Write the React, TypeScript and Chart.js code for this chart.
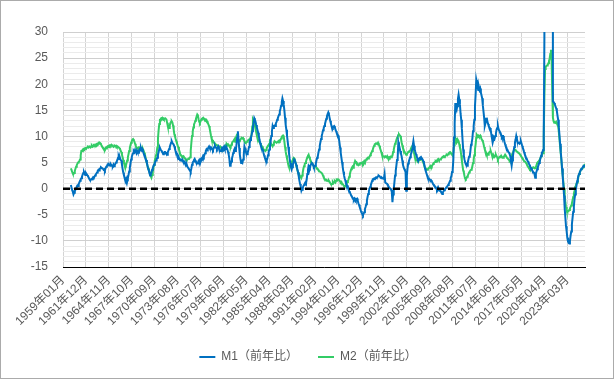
import React, { useEffect, useRef } from 'react';
import { Chart, registerables } from 'chart.js';

Chart.register(...registerables);

// ---- categories (monthly, 1959-01 .. 2025-06) ----
const firstYear = 1959;
const monthCount = 798;
const categories: string[] = Array.from(
  { length: monthCount },
  (_, i) => `${firstYear + Math.floor(i / 12)}年${String((i % 12) + 1).padStart(2, '0')}月`
);

// ---- x tick labels shown on the axis ----
const xTickLabels: string[] = [
  '1959年01月', '1961年12月', '1964年11月', '1967年10月', '1970年09月', '1973年08月',
  '1976年07月', '1979年06月', '1982年05月', '1985年04月', '1988年03月', '1991年02月',
  '1994年01月', '1996年12月', '1999年11月', '2002年10月', '2005年09月', '2008年08月',
  '2011年07月', '2014年06月', '2017年05月', '2020年04月', '2023年03月',
];

// ---- y tick labels ----
const yTickLabels: number[] = [-15, -10, -5, 0, 5, 10, 15, 20, 25, 30];

// ---- series: M1 year-on-year (%) ----
const m1Yoy: (number | null)[] = [
  null, null, null, null, null, null, null, null, null, null, null, null, // 1959
  0.7, 0.2, -0.3, -0.6, -1.1, -0.8, -0.5, -0.2, 0.1, 0.4, 0.6, 0.5, // 1960
  0.9, 1.2, 1.5, 1.8, 2.0, 2.3, 2.7, 3.0, 3.2, 2.9, 2.6, 3.0, // 1961
  2.8, 2.6, 2.4, 2.2, 1.9, 1.7, 1.6, 1.8, 1.9, 2.0, 2.2, 2.1, // 1962
  2.3, 2.5, 2.7, 2.9, 3.1, 3.4, 3.6, 3.5, 3.8, 3.9, 4.1, 4.0, // 1963
  3.9, 3.8, 3.6, 3.7, 3.5, 3.9, 4.2, 4.3, 4.6, 4.5, 4.7, 4.6, // 1964
  4.4, 4.7, 4.5, 4.4, 4.3, 4.6, 4.3, 4.5, 4.8, 5.0, 5.2, 5.5, // 1965
  5.9, 6.1, 5.7, 5.9, 5.5, 5.4, 4.6, 3.8, 3.1, 2.6, 2.2, 2.0, // 1966
  1.6, 1.9, 2.2, 2.0, 2.6, 3.3, 4.0, 4.8, 5.6, 6.1, 6.5, 6.8, // 1967
  7.2, 7.0, 7.4, 7.1, 6.8, 7.3, 7.0, 6.9, 7.2, 7.5, 7.3, 7.8, // 1968
  7.4, 7.6, 7.2, 6.8, 6.5, 6.1, 5.7, 5.5, 5.0, 4.4, 3.8, 3.5, // 1969
  3.0, 2.5, 2.8, 3.1, 3.6, 3.9, 4.3, 4.6, 4.9, 5.2, 5.4, 5.7, // 1970
  5.9, 6.5, 7.0, 7.6, 7.8, 7.5, 7.3, 7.1, 6.9, 6.6, 6.8, 7.0, // 1971
  7.0, 6.8, 6.6, 6.5, 7.0, 7.3, 7.6, 8.0, 8.4, 8.8, 9.1, 8.8, // 1972
  8.6, 8.4, 8.1, 7.6, 7.2, 6.9, 6.5, 6.0, 5.7, 5.9, 5.6, 5.4, // 1973
  5.5, 5.4, 5.6, 5.3, 5.1, 5.2, 4.9, 4.6, 4.4, 4.6, 4.2, 4.0, // 1974
  3.8, 3.6, 3.5, 3.3, 3.9, 4.6, 5.0, 5.2, 5.5, 5.7, 5.4, 5.1, // 1975
  5.0, 4.8, 4.9, 5.3, 5.5, 5.2, 5.6, 5.8, 5.7, 6.0, 6.3, 6.1, // 1976
  6.5, 6.8, 7.2, 7.5, 7.3, 7.6, 7.9, 8.1, 7.8, 7.6, 7.9, 7.7, // 1977
  7.6, 7.4, 7.7, 8.0, 8.2, 7.9, 7.8, 7.6, 7.9, 8.1, 7.7, 7.4, // 1978
  7.2, 7.3, 7.5, 7.8, 7.6, 7.9, 8.1, 7.7, 7.9, 7.6, 7.8, 7.5, // 1979
  7.0, 6.5, 5.7, 4.4, 4.6, 5.2, 5.8, 6.3, 6.9, 7.3, 7.6, 7.2, // 1980
  7.5, 8.6, 9.8, 11.0, 9.4, 7.8, 6.5, 5.6, 4.9, 5.2, 5.0, 5.6, // 1981
  6.5, 8.1, 7.7, 7.2, 6.9, 6.6, 6.9, 7.4, 8.0, 8.7, 9.3, 9.8, // 1982
  10.3, 11.0, 11.8, 12.6, 13.5, 13.2, 12.8, 12.2, 11.7, 11.2, 10.7, 10.1, // 1983
  9.4, 8.8, 8.3, 7.9, 7.6, 7.5, 6.9, 6.4, 6.0, 5.7, 5.6, 5.4, // 1984
  5.8, 6.4, 7.0, 7.5, 8.1, 9.0, 10.1, 11.0, 12.0, 11.6, 12.0, 12.1, // 1985
  12.0, 12.5, 12.8, 13.2, 13.5, 13.9, 14.2, 14.8, 15.3, 15.9, 16.6, 17.3, // 1986
  16.8, 16.1, 15.0, 13.6, 12.2, 11.3, 10.2, 9.1, 8.0, 6.9, 5.8, 4.9, // 1987
  4.2, 3.7, 4.1, 4.6, 5.1, 5.6, 5.4, 5.0, 4.6, 4.1, 3.6, 3.1, // 1988
  2.3, 1.5, 0.9, 0.4, -0.4, -0.2, 0.1, 0.5, 0.7, 1.0, 1.2, 1.0, // 1989
  1.7, 2.8, 3.6, 4.4, 4.2, 4.0, 4.5, 4.7, 4.9, 4.8, 4.5, 4.1, // 1990
  4.2, 4.4, 4.8, 5.4, 5.9, 6.2, 6.9, 7.5, 8.2, 8.9, 9.5, 10.1, // 1991
  10.6, 11.2, 11.6, 12.0, 12.4, 12.9, 13.4, 13.9, 14.3, 14.6, 14.2, 13.6, // 1992
  13.0, 12.5, 12.0, 11.7, 11.6, 11.9, 12.0, 11.8, 11.3, 11.0, 10.6, 10.4, // 1993
  10.2, 9.8, 8.9, 7.9, 6.9, 6.0, 5.1, 4.2, 3.3, 2.6, 2.0, 1.6, // 1994
  1.1, 0.8, 0.6, 0.2, -0.2, -0.5, -0.7, -1.0, -1.3, -1.5, -1.8, -2.0, // 1995
  -2.1, -1.8, -1.9, -2.2, -2.0, -1.9, -2.3, -2.8, -3.1, -3.5, -3.9, -4.3, // 1996
  -4.6, -4.9, -5.1, -4.8, -4.5, -3.9, -3.5, -3.0, -2.3, -1.6, -1.0, -0.5, // 1997
  0.0, 0.3, 0.7, 1.1, 1.5, 1.8, 1.9, 1.8, 2.0, 2.1, 2.2, 2.1, // 1998
  2.2, 2.4, 2.5, 2.4, 2.3, 2.1, 2.0, 2.1, 2.0, 1.9, 2.0, 2.8, // 1999
  1.2, 1.1, 1.0, 0.9, 0.6, 0.5, 0.2, 0.1, 0.0, -0.2, -0.6, -2.6, // 2000
  -1.1, 0.0, 1.2, 2.5, 3.4, 4.4, 5.5, 6.0, 8.9, 8.3, 7.8, 7.2, // 2001
  6.7, 6.2, 5.4, 4.6, 4.1, 3.8, 3.5, 3.2, -0.4, 2.5, 3.9, 4.8, // 2002
  5.2, 5.6, 6.0, 6.5, 6.9, 7.5, 8.3, 9.1, 8.2, 7.5, 7.0, 6.6, // 2003
  6.2, 5.9, 5.6, 5.5, 5.7, 5.9, 6.0, 5.7, 5.8, 5.6, 5.3, 5.0, // 2004
  4.4, 3.7, 3.3, 2.9, 2.5, 2.1, 1.8, 1.9, 1.7, 1.5, 1.6, 1.4, // 2005
  1.2, 0.9, 0.7, 0.6, 0.4, 0.2, 0.0, -0.2, 0.1, -0.3, -0.1, -0.4, // 2006
  -0.4, -0.6, -0.8, -1.0, -0.7, -0.5, -0.3, -0.1, 0.0, 0.2, 0.3, 0.5, // 2007
  0.7, 0.9, 1.2, 1.5, 2.1, 2.4, 3.2, 3.6, 5.6, 9.8, 12.5, 16.4, // 2008
  15.5, 15.1, 15.8, 17.2, 18.0, 17.1, 16.2, 14.4, 13.2, 11.5, 9.4, 7.5, // 2009
  6.3, 5.6, 5.0, 4.7, 4.5, 4.4, 5.0, 5.6, 6.1, 6.2, 7.2, 8.4, // 2010
  8.8, 9.6, 11.0, 12.0, 13.2, 15.8, 18.0, 20.8, 20.1, 19.4, 18.9, 19.5, // 2011
  18.9, 19.2, 18.4, 17.9, 17.3, 16.0, 14.8, 13.6, 12.0, 12.5, 13.2, 13.6, // 2012
  12.8, 12.4, 12.0, 11.7, 11.6, 11.3, 10.4, 9.6, 8.8, 9.3, 9.8, 9.6, // 2013
  10.1, 10.6, 11.3, 11.6, 12.0, 11.4, 11.1, 10.8, 10.7, 10.3, 9.9, 10.1, // 2014
  10.1, 9.6, 9.0, 8.5, 8.1, 7.9, 7.5, 7.3, 7.0, 6.9, 6.6, 6.2, // 2015
  5.2, 4.4, 5.4, 6.3, 7.2, 8.0, 8.8, 9.4, 10.1, 9.5, 9.0, 8.8, // 2016
  8.8, 8.6, 8.9, 9.1, 8.7, 8.2, 7.8, 7.5, 7.0, 6.6, 6.3, 5.9, // 2017
  5.7, 5.4, 5.2, 4.9, 4.6, 4.3, 4.1, 3.9, 3.6, 3.4, 3.2, 3.1, // 2018
  2.7, 2.1, 2.9, 3.3, 3.7, 4.1, 4.5, 4.9, 5.3, 5.8, 6.3, 6.9, // 2019
  7.0, 7.4, 10.2, 29.0, 330.0, 338.0, 343.0, 346.0, 349.0, 351.0, 353.0, 355.0, // 2020
  352.0, 348.0, 340.0, 290.0, 16.7, 16.6, 16.4, 16.1, 15.7, 15.4, 14.9, 14.0, // 2021
  13.2, 11.8, 10.3, 8.6, 7.0, 5.6, 3.9, 2.3, 0.5, -1.3, -3.8, -5.5, // 2022
  -7.2, -8.2, -9.4, -10.1, -10.4, -10.5, -10.0, -9.0, -8.2, -6.8, -5.6, -4.4, // 2023
  -3.4, -2.0, -1.1, -0.2, 0.6, 1.4, 1.9, 2.5, 2.8, 3.2, 3.4, 3.7, // 2024
  3.8, 4.0, 4.2, 4.4, 4.4, 4.5, // 2025
];

// ---- series: M2 year-on-year (%) ----
const m2Yoy: (number | null)[] = [
  null, null, null, null, null, null, null, null, null, null, null, null, // 1959
  3.9, 3.6, 3.2, 2.9, 2.8, 3.0, 3.4, 3.8, 4.2, 4.5, 4.8, 5.0, // 1960
  5.1, 5.3, 5.6, 6.4, 7.2, 7.3, 7.4, 7.6, 7.5, 7.7, 7.8, 7.7, // 1961
  7.8, 7.9, 8.0, 7.9, 8.1, 8.0, 7.9, 8.1, 8.2, 8.0, 8.1, 8.3, // 1962
  8.2, 8.4, 8.3, 8.5, 8.6, 8.5, 8.7, 8.6, 8.8, 8.7, 8.5, 8.2, // 1963
  8.0, 7.8, 7.7, 7.6, 7.5, 7.8, 7.7, 8.0, 8.1, 8.0, 8.2, 8.3, // 1964
  8.3, 8.2, 8.4, 8.3, 8.2, 8.0, 8.1, 8.2, 8.1, 8.2, 8.0, 8.1, // 1965
  8.0, 7.9, 7.8, 7.6, 7.3, 7.0, 6.5, 6.0, 5.5, 5.0, 4.7, 4.5, // 1966
  4.4, 4.9, 5.4, 6.0, 6.6, 7.2, 7.8, 8.3, 8.8, 9.1, 9.4, 9.5, // 1967
  9.3, 9.0, 8.6, 8.2, 7.9, 7.7, 7.8, 7.9, 7.7, 7.9, 8.0, 7.8, // 1968
  7.7, 7.5, 7.6, 7.3, 6.9, 6.5, 6.0, 5.4, 4.9, 4.4, 4.0, 3.7, // 1969
  3.2, 2.7, 2.4, 2.1, 2.6, 3.2, 3.9, 4.6, 5.3, 5.9, 6.4, 6.9, // 1970
  7.9, 9.6, 11.2, 12.4, 13.2, 13.3, 13.5, 13.4, 13.6, 13.5, 13.3, 13.4, // 1971
  13.5, 13.4, 13.2, 12.6, 12.0, 11.8, 11.6, 12.1, 12.6, 12.8, 12.9, 12.7, // 1972
  12.1, 11.3, 10.4, 10.0, 9.5, 9.1, 8.7, 8.3, 8.0, 7.5, 7.1, 6.6, // 1973
  6.4, 6.3, 6.2, 6.1, 6.2, 6.0, 5.8, 5.7, 5.6, 5.5, 5.6, 5.7, // 1974
  5.8, 5.8, 6.0, 7.3, 8.8, 10.1, 10.9, 11.7, 12.3, 12.6, 13.0, 13.4, // 1975
  13.8, 14.2, 14.0, 13.3, 12.8, 12.6, 12.9, 13.2, 13.4, 13.5, 13.6, 13.4, // 1976
  13.4, 13.3, 13.1, 13.2, 12.9, 12.6, 12.3, 12.0, 11.5, 10.8, 10.1, 9.5, // 1977
  9.3, 9.1, 8.9, 8.8, 8.6, 8.5, 8.4, 8.3, 8.3, 8.2, 8.1, 8.0, // 1978
  8.1, 7.9, 7.7, 7.6, 7.5, 7.7, 7.9, 8.1, 8.2, 8.4, 8.5, 8.3, // 1979
  8.5, 8.3, 8.2, 8.1, 8.0, 8.4, 8.7, 9.0, 9.1, 9.3, 9.5, 9.0, // 1980
  9.7, 10.1, 9.8, 9.6, 9.3, 9.1, 9.2, 9.4, 9.6, 9.7, 9.6, 9.7, // 1981
  9.4, 9.1, 8.9, 8.8, 8.9, 9.0, 9.2, 9.3, 9.4, 9.5, 9.7, 9.6, // 1982
  10.6, 11.9, 13.2, 12.9, 12.4, 12.0, 11.4, 10.8, 10.2, 9.7, 9.3, 9.1, // 1983
  8.9, 8.7, 8.4, 8.2, 8.1, 7.9, 7.6, 7.4, 7.3, 7.2, 7.4, 7.8, // 1984
  8.0, 8.2, 8.4, 8.6, 9.0, 8.8, 8.5, 8.3, 8.1, 8.4, 8.8, 9.1, // 1985
  9.0, 8.9, 8.8, 8.9, 9.0, 9.1, 9.2, 9.1, 9.3, 9.6, 9.9, 10.1, // 1986
  10.2, 10.0, 9.0, 8.0, 7.1, 6.4, 5.8, 5.2, 4.6, 4.2, 4.0, 4.1, // 1987
  4.5, 4.9, 5.3, 5.6, 5.9, 5.8, 5.5, 5.0, 4.5, 4.0, 3.5, 3.1, // 1988
  2.9, 2.6, 2.4, 2.2, 2.1, 2.5, 3.1, 3.8, 4.3, 4.7, 4.9, 5.2, // 1989
  5.6, 6.0, 6.3, 6.5, 6.1, 5.7, 5.4, 5.1, 4.9, 4.7, 4.5, 4.3, // 1990
  4.3, 4.4, 4.2, 4.0, 3.9, 3.7, 3.6, 3.4, 3.3, 3.2, 3.1, 3.0, // 1991
  2.8, 2.5, 2.2, 1.9, 1.8, 1.7, 1.5, 1.6, 1.5, 1.4, 1.5, 1.3, // 1992
  1.1, 0.9, 0.8, 0.9, 1.3, 1.1, 1.2, 1.4, 1.2, 1.5, 1.7, 1.6, // 1993
  1.8, 1.7, 1.6, 1.4, 1.2, 1.3, 1.0, 0.9, 0.7, 0.5, 0.3, 0.5, // 1994
  0.6, 0.9, 1.3, 1.5, 1.8, 2.3, 2.8, 3.3, 3.7, 4.0, 4.2, 4.0, // 1995
  4.4, 4.9, 5.3, 5.1, 4.9, 4.6, 4.7, 4.5, 4.6, 4.8, 4.9, 4.8, // 1996
  4.9, 5.0, 4.8, 5.1, 5.3, 5.1, 5.3, 5.6, 5.7, 5.9, 5.8, 6.0, // 1997
  6.1, 6.4, 6.7, 6.9, 7.2, 7.5, 7.9, 8.2, 8.5, 8.6, 8.7, 8.6, // 1998
  8.6, 8.8, 8.5, 8.2, 7.8, 7.4, 7.0, 6.5, 6.3, 6.2, 6.1, 6.0, // 1999
  6.2, 6.1, 6.0, 6.2, 5.9, 5.8, 6.0, 5.9, 6.1, 6.0, 6.2, 6.3, // 2000
  7.0, 7.5, 8.1, 8.6, 8.8, 9.3, 9.7, 9.9, 10.3, 10.4, 10.2, 10.1, // 2001
  9.6, 8.9, 8.3, 7.8, 7.5, 7.1, 6.9, 6.7, 6.5, 6.6, 6.8, 7.0, // 2002
  7.1, 7.2, 7.3, 7.6, 7.9, 8.1, 7.8, 7.2, 6.8, 6.2, 5.7, 5.5, // 2003
  5.4, 5.3, 5.2, 5.3, 5.5, 5.6, 5.7, 5.8, 5.6, 5.3, 5.0, 4.7, // 2004
  4.2, 4.0, 3.9, 3.7, 3.6, 3.7, 3.9, 4.0, 4.2, 4.4, 4.3, 4.2, // 2005
  4.5, 4.7, 4.9, 5.0, 5.1, 5.3, 5.2, 5.4, 5.6, 5.7, 5.5, 5.6, // 2006
  5.6, 5.7, 5.8, 6.0, 6.1, 6.2, 6.0, 6.2, 6.3, 6.4, 6.5, 6.4, // 2007
  6.6, 6.8, 6.9, 7.0, 6.9, 6.6, 6.5, 6.3, 7.0, 8.3, 8.9, 9.7, // 2008
  9.4, 8.8, 9.0, 9.3, 9.1, 8.5, 7.9, 7.5, 6.4, 5.3, 4.4, 3.5, // 2009
  3.1, 2.4, 1.9, 1.8, 2.0, 2.3, 2.5, 2.8, 3.1, 3.3, 3.5, 3.6, // 2010
  3.7, 4.3, 4.9, 5.6, 6.4, 7.5, 8.5, 9.8, 10.3, 10.1, 10.2, 10.0, // 2011
  10.1, 10.2, 9.9, 9.5, 9.3, 9.1, 8.6, 8.0, 7.5, 7.2, 6.9, 6.5, // 2012
  6.6, 6.5, 6.8, 7.0, 7.1, 7.2, 6.8, 6.4, 5.9, 6.0, 6.3, 6.1, // 2013
  6.3, 6.5, 6.2, 6.0, 5.6, 5.8, 6.0, 6.1, 6.2, 6.0, 6.1, 5.9, // 2014
  5.9, 6.1, 6.3, 6.5, 6.3, 6.1, 5.9, 5.8, 5.6, 5.5, 5.3, 5.4, // 2015
  5.9, 6.3, 6.7, 6.9, 7.2, 7.4, 7.5, 7.4, 7.2, 7.1, 7.0, 6.9, // 2016
  6.8, 6.7, 6.5, 6.3, 6.1, 5.9, 5.7, 5.5, 5.3, 5.2, 5.1, 4.9, // 2017
  4.7, 4.4, 4.2, 4.0, 3.9, 3.7, 3.8, 3.9, 3.9, 4.0, 4.1, 4.0, // 2018
  4.0, 3.9, 4.1, 4.5, 4.9, 5.1, 5.2, 5.4, 5.6, 5.9, 6.2, 6.5, // 2019
  6.7, 6.8, 10.2, 17.6, 22.9, 23.3, 23.5, 23.6, 23.7, 24.0, 24.4, 24.9, // 2020
  25.8, 26.6, 24.7, 18.5, 13.6, 12.9, 12.6, 12.7, 12.6, 12.8, 12.5, 12.3, // 2021
  12.0, 10.9, 9.5, 8.1, 6.7, 5.3, 3.7, 2.5, 1.2, 0.0, -1.3, -2.6, // 2022
  -3.5, -4.1, -4.3, -4.4, -4.3, -4.1, -3.8, -3.5, -3.2, -2.8, -2.2, -1.6, // 2023
  -1.0, -0.4, 0.3, 0.6, 1.0, 1.2, 1.7, 2.3, 2.8, 3.1, 3.4, 3.7, // 2024
  3.7, 3.8, 4.1, 4.4, 4.5, 4.7, // 2025
];

const seriesNames = ['M1（前年比）', 'M2（前年比）'];
const seriesColors = ['#0070C0', '#33CC66'];
const zeroLineValue = 0;

const FONT = "'Liberation Sans', Arial, 'Noto Sans CJK JP', sans-serif";
const TEXT_COLOR = '#595959';

const zeroLinePlugin = {
  id: 'zeroLine',
  afterDatasetsDraw(chart: any) {
    const { ctx, chartArea, scales } = chart;
    const y = scales.y.getPixelForValue(zeroLineValue);
    ctx.save();
    ctx.beginPath();
    ctx.setLineDash([7, 4]);
    ctx.lineWidth = 2.5;
    ctx.strokeStyle = '#000000';
    ctx.moveTo(chartArea.left, y);
    ctx.lineTo(chartArea.right, y);
    ctx.stroke();
    ctx.restore();
  },
};

export default function App() {
  const canvasRef = useRef<HTMLCanvasElement | null>(null);

  useEffect(() => {
    document.body.style.margin = '0';
    const canvas = canvasRef.current;
    if (!canvas) return;
    const toPoints = (arr: (number | null)[]) => arr.map((v, i) => ({ x: i, y: v }));
    const chart = new Chart(canvas, {
      type: 'line',
      data: {
        datasets: [
          {
            label: seriesNames[0],
            data: toPoints(m1Yoy) as any,
            borderColor: seriesColors[0],
            backgroundColor: seriesColors[0],
            borderWidth: 2,
            pointRadius: 0,
            tension: 0,
          },
          {
            label: seriesNames[1],
            data: toPoints(m2Yoy) as any,
            borderColor: seriesColors[1],
            backgroundColor: seriesColors[1],
            borderWidth: 2,
            pointRadius: 0,
            tension: 0,
          },
        ],
      },
      options: {
        responsive: false,
        animation: false,
        layout: { padding: { left: 30, right: 28, top: 31, bottom: 5 } },
        plugins: {
          legend: {
            position: 'bottom',
            labels: {
              usePointStyle: true,
              pointStyle: 'line',
              pointStyleWidth: 16,
              padding: 20,
              color: TEXT_COLOR,
              font: { family: FONT, size: 12 },
            },
          },
          tooltip: { enabled: false },
        },
        scales: {
          x: {
            type: 'linear',
            min: 0,
            max: monthCount - 1,
            afterFit: (scale: any) => { scale.height = 64; },
            ticks: {
              stepSize: 35,
              includeBounds: false,
              autoSkip: false,
              minRotation: 45,
              maxRotation: 45,
              padding: 6,
              color: TEXT_COLOR,
              font: { family: FONT, size: 12 },
              callback: (value: any) => {
                const label = categories[Math.round(Number(value))];
                return xTickLabels.includes(label) ? label : '';
              },
            },
            grid: { color: '#d4d4d4', lineWidth: 1, drawTicks: false },
            border: { display: true, color: '#000000', width: 1 },
          },
          y: {
            type: 'linear',
            min: yTickLabels[0],
            max: yTickLabels[yTickLabels.length - 1],
            afterFit: (scale: any) => { scale.width = 32; },
            ticks: {
              stepSize: 1,
              autoSkip: false,
              padding: 15,
              color: TEXT_COLOR,
              font: { family: FONT, size: 12 },
              callback: (value: any) => (yTickLabels.includes(Number(value)) ? String(value) : ''),
            },
            grid: {
              drawTicks: false,
              lineWidth: 1,
              color: (ctx: any) =>
                ctx.tick && yTickLabels.includes(ctx.tick.value) ? '#cfcfcf' : '#ebebeb',
            },
            border: { display: false },
          },
        },
      },
      plugins: [zeroLinePlugin],
    });
    return () => chart.destroy();
  }, []);

  return (
    <div
      style={{
        position: 'absolute',
        left: 0,
        top: 0,
        width: 614,
        height: 379,
        boxSizing: 'border-box',
        border: '1px solid #ababab',
        background: '#ffffff',
      }}
    >
      <canvas ref={canvasRef} width={612} height={377} style={{ display: 'block', width: 612, height: 377 }} />
    </div>
  );
}
